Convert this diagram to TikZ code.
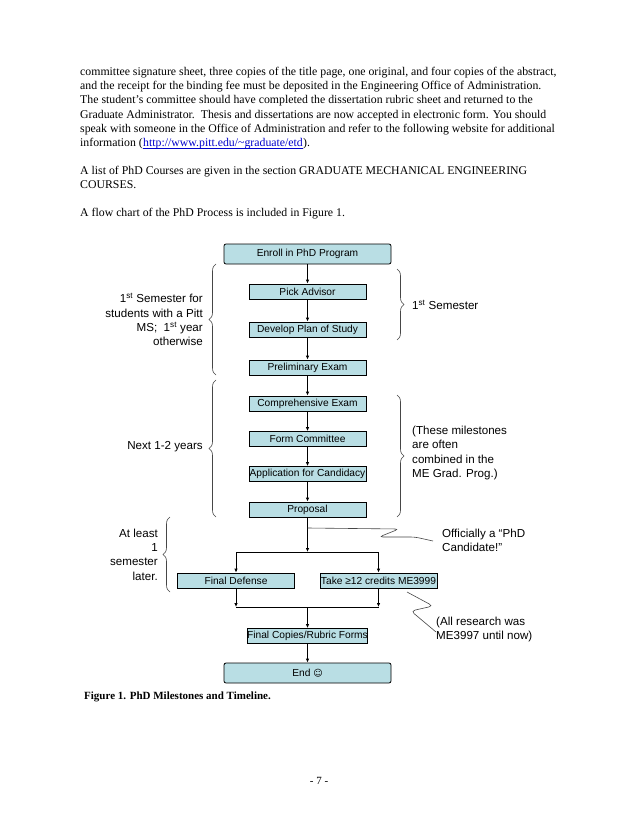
\documentclass[tikz,border=0pt]{standalone}
\usepackage{fontspec}
\setmainfont{Liberation Serif}
\newfontfamily\arial{Liberation Sans}
\newfontfamily\dejavu{DejaVu Sans}
\usetikzlibrary{arrows.meta,decorations.pathreplacing}
\definecolor{boxfill}{RGB}{185,222,228}
\definecolor{bracegray}{RGB}{70,70,70}
\definecolor{linkblue}{RGB}{0,0,204}
\begin{document}
\begin{tikzpicture}[x=1pt,y=-1pt,
 body/.style={anchor=base west, inner sep=0pt, font=\fontsize{11.8}{14}\selectfont},
 stepbox/.style={draw=black, line width=0.8pt, fill=boxfill, inner sep=0pt, minimum width=117pt, minimum height=15pt, font=\arial\fontsize{10.2}{12}\selectfont},
 bigbox/.style={stepbox, minimum width=167pt, minimum height=20pt, rounded corners=2pt},
 arr/.style={line width=0.8pt, -{Latex[length=4pt,width=3.5pt]}},
 conn/.style={line width=0.8pt},
 side/.style={inner sep=0pt, font=\arial\fontsize{11.6}{14.3}\selectfont},
 brc/.style={draw=bracegray, line width=0.6pt, decorate, decoration={brace, amplitude=7pt}},
 callout/.style={draw=bracegray, line width=0.6pt, rounded corners=4pt},
]
\fill[white] (0,0) rectangle (638,826);
\useasboundingbox (0,0) rectangle (638,826);

% body text
\node[body] (t1) at (80,76) {committee signature sheet, three copies of the title page, one original, and four copies of the abstract,};
\node[body] (t2) at (80,90) {and the receipt for the binding fee must be deposited in the Engineering Office of Administration.};
\node[body] (t3) at (80,104) {The student’s committee should have completed the dissertation rubric sheet and returned to the};
\node[body] (t4) at (80,119) {Graduate Administrator.\ \ Thesis and dissertations are now accepted in electronic form. You should};
\node[body] (t5) at (80,133) {speak with someone in the Office of Administration and refer to the following website for additional};
\node[body] (t6a) at (80,147) {information (};
\node[body, text=linkblue] (t6b) at (t6a.base east) {http://www.pitt.edu/\textasciitilde graduate/etd};
\node[body] (t6c) at (t6b.base east) {).};
\draw[linkblue, line width=0.5pt] ([yshift=-1.5pt]t6b.base west) -- ([yshift=-1.5pt]t6b.base east);
\node[body] (t7) at (80,175) {A list of PhD Courses are given in the section GRADUATE MECHANICAL ENGINEERING};
\node[body] (t8) at (80,189) {COURSES.};
\node[body] (t9) at (80,217) {A flow chart of the PhD Process is included in Figure 1.};

% flowchart boxes
\node[bigbox] (enroll) at (307.5,254) {Enroll in PhD Program};
\node[stepbox] (pick) at (307.5,291.5) {Pick Advisor};
\node[stepbox] (plan) at (307.5,329.5) {Develop Plan of Study};
\node[stepbox] (prelim) at (307.5,367.5) {Preliminary Exam};
\node[stepbox] (comp) at (307.5,403.5) {Comprehensive Exam};
\node[stepbox] (form) at (307.5,439) {Form Committee};
\node[stepbox] (app) at (307.5,474) {Application for Candidacy};
\node[stepbox] (prop) at (307.5,509.5) {Proposal};
\node[stepbox] (defense) at (236,580.5) {Final Defense};
\node[stepbox] (take) at (378.5,580.5) {Take ≥12 credits ME3999};
\node[stepbox] (copies) at (307.5,636) {Final Copies/Rubric Forms};
\node[bigbox] (end) at (307.5,673) {End {\dejavu\fontsize{9}{10}\selectfont ☺}};

% connectors
\draw[arr] (enroll) -- (pick);
\draw[arr] (pick) -- (plan);
\draw[arr] (plan) -- (prelim);
\draw[arr] (prelim) -- (comp);
\draw[arr] (comp) -- (form);
\draw[arr] (form) -- (app);
\draw[arr] (app) -- (prop);
\coordinate (split) at (307.5,552);
\coordinate (splitL) at (236,552);
\coordinate (splitR) at (378.5,552);
\draw[arr] (prop) -- (split);
\draw[conn] (splitL) -- (splitR);
\draw[arr] (splitL) -- (defense);
\draw[arr] (splitR) -- (take);
\coordinate (merge) at (307.5,607);
\coordinate (mergeL) at (236,607);
\coordinate (mergeR) at (378.5,607);
\draw[arr] (defense) -- (mergeL);
\draw[arr] (take) -- (mergeR);
\draw[conn] (mergeL) -- (mergeR);
\draw[arr] (merge) -- (copies);
\draw[arr] (copies) -- (end);

% braces
\coordinate (lb1a) at (216,375); \coordinate (lb1b) at (216,264);
\draw[brc] (lb1a) -- (lb1b);
\coordinate (lb2a) at (216,517); \coordinate (lb2b) at (216,380);
\draw[brc] (lb2a) -- (lb2b);
\coordinate (lb3a) at (170,592); \coordinate (lb3b) at (170,517);
\draw[brc] (lb3a) -- (lb3b);
\coordinate (rb1a) at (397,269); \coordinate (rb1b) at (397,340);
\draw[brc] (rb1a) -- (rb1b);
\coordinate (rb2a) at (397,395); \coordinate (rb2b) at (397,517);
\draw[brc] (rb2a) -- (rb2b);

% side labels
\node[side, anchor=east, align=right] (lbl1) at (203,319.5) {1\textsuperscript{st} Semester for\\students with a Pitt\\MS;\ \ 1\textsuperscript{st} year\\otherwise};
\node[side, anchor=east] (lbl2) at (203,447) {Next 1-2 years};
\node[side, anchor=west] (lbl3) at (412,305) {1\textsuperscript{st} Semester};
\node[side, anchor=west, align=left] (lbl4) at (412,453) {(These milestones\\are often\\combined in the\\ME Grad. Prog.)};
\node[side, anchor=east, align=right] (lbl5) at (158,554.5) {At least\\1\\semester\\later.};
\node[side, anchor=west, align=left] (lbl6) at (442,540) {Officially a “PhD\\Candidate!”};
\node[side, anchor=west, align=left] (lbl7) at (436,629.5) {(All research was\\ME3997 until now)};

% callouts
\coordinate (c1s) at (307.5,528);
\coordinate (c1e) at (433,541);
\draw[callout] (c1s) -- (399,529) -- (379,537) -- (415,537) -- (c1e);
\coordinate (c2s) at (407,592);
\coordinate (c2e) at (436,632);
\draw[callout] (c2s) -- (433,606) -- (411,611) -- (c2e);

% caption and page number
\node[anchor=base west, inner sep=0pt, font=\bfseries\fontsize{11}{13}\selectfont] (cap) at (84,699) {Figure 1. PhD Milestones and Timeline.};
\node[inner sep=0pt, font=\fontsize{11}{13}\selectfont] (pg) at (319,781) {- 7 -};
\end{tikzpicture}
\end{document}
